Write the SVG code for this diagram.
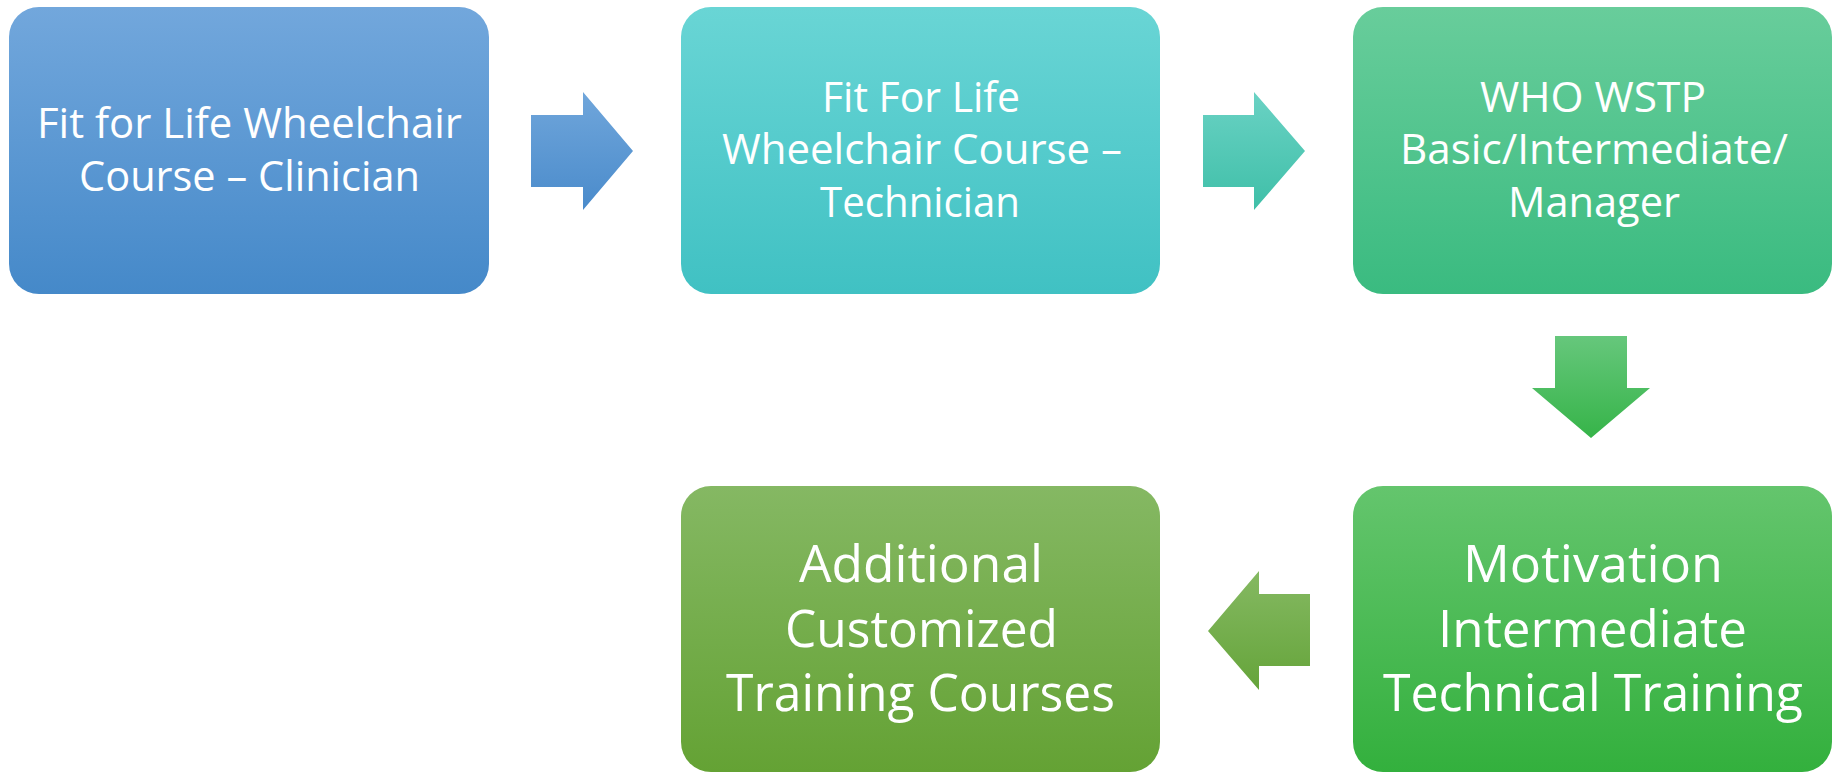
<svg xmlns="http://www.w3.org/2000/svg" width="1833" height="773" viewBox="0 0 1833 773">
<defs>
<linearGradient id="g1" x1="0" y1="0" x2="0" y2="1"><stop offset="0" stop-color="#72a7dc"/><stop offset="1" stop-color="#4589c9"/></linearGradient>
<linearGradient id="g2" x1="0" y1="0" x2="0" y2="1"><stop offset="0" stop-color="#69d5d5"/><stop offset="1" stop-color="#40c1c3"/></linearGradient>
<linearGradient id="g3" x1="0" y1="0" x2="0" y2="1"><stop offset="0" stop-color="#68cd9b"/><stop offset="1" stop-color="#3abb80"/></linearGradient>
<linearGradient id="g4" x1="0" y1="0" x2="0" y2="1"><stop offset="0" stop-color="#64c56d"/><stop offset="1" stop-color="#33b03d"/></linearGradient>
<linearGradient id="g5" x1="0" y1="0" x2="0" y2="1"><stop offset="0" stop-color="#85b863"/><stop offset="1" stop-color="#64a234"/></linearGradient>
<linearGradient id="a1" gradientUnits="userSpaceOnUse" x1="0" y1="92" x2="0" y2="210"><stop offset="0" stop-color="#70a6db"/><stop offset="1" stop-color="#4a8bcb"/></linearGradient>
<linearGradient id="a2" gradientUnits="userSpaceOnUse" x1="0" y1="92" x2="0" y2="210"><stop offset="0" stop-color="#6ad2c4"/><stop offset="1" stop-color="#3fbfa8"/></linearGradient>
<linearGradient id="a3" gradientUnits="userSpaceOnUse" x1="0" y1="336" x2="0" y2="438"><stop offset="0" stop-color="#66c77c"/><stop offset="1" stop-color="#36b449"/></linearGradient>
<linearGradient id="a4" gradientUnits="userSpaceOnUse" x1="0" y1="571" x2="0" y2="690"><stop offset="0" stop-color="#85b962"/><stop offset="1" stop-color="#65a43a"/></linearGradient>
</defs>
<style>
.box{stroke:none}
.t{font-family:"Open Sans","Noto Sans",sans-serif;fill:#ffffff;text-anchor:middle}
.s{font-size:42px}
.b{font-size:52px}
</style>
<g id="connectors">
<polygon points="531,115 583,115 583,92 633,151 583,210 583,187 531,187" fill="url(#a1)"/>
<polygon points="1203,115 1254,115 1254,92 1305,151 1254,210 1254,187 1203,187" fill="url(#a2)"/>
<polygon points="1555,336 1627,336 1627,388 1650,388 1591,438 1532,388 1555,388" fill="url(#a3)"/>
<polygon points="1310,594 1259,594 1259,571 1208,631 1259,690 1259,666 1310,666" fill="url(#a4)"/>
</g>
<g id="node1">
<rect class="box" x="9" y="7" width="480" height="287" rx="30" fill="url(#g1)"/>
<text class="t s" x="249.5" y="138" textLength="425" lengthAdjust="spacingAndGlyphs">Fit for Life Wheelchair</text>
<text class="t s" x="249.5" y="191" textLength="341" lengthAdjust="spacingAndGlyphs">Course – Clinician</text>
</g>
<g id="node2">
<rect class="box" x="681" y="7" width="479" height="287" rx="30" fill="url(#g2)"/>
<text class="t s" x="921" y="112" textLength="198" lengthAdjust="spacingAndGlyphs">Fit For Life</text>
<text class="t s" x="922" y="164" textLength="400" lengthAdjust="spacingAndGlyphs">Wheelchair Course –</text>
<text class="t s" x="920" y="217" textLength="200" lengthAdjust="spacingAndGlyphs">Technician</text>
</g>
<g id="node3">
<rect class="box" x="1353" y="7" width="479" height="287" rx="30" fill="url(#g3)"/>
<text class="t s" x="1593" y="112" textLength="226" lengthAdjust="spacingAndGlyphs">WHO WSTP</text>
<text class="t s" x="1594" y="164" textLength="388" lengthAdjust="spacingAndGlyphs">Basic/Intermediate/</text>
<text class="t s" x="1594" y="217" textLength="172" lengthAdjust="spacingAndGlyphs">Manager</text>
</g>
<g id="node4">
<rect class="box" x="1353" y="486" width="479" height="286" rx="30" fill="url(#g4)"/>
<text class="t b" x="1593" y="582" textLength="260" lengthAdjust="spacingAndGlyphs">Motivation</text>
<text class="t b" x="1592.5" y="647" textLength="309" lengthAdjust="spacingAndGlyphs">Intermediate</text>
<text class="t b" x="1593" y="711" textLength="420" lengthAdjust="spacingAndGlyphs">Technical Training</text>
</g>
<g id="node5">
<rect class="box" x="681" y="486" width="479" height="286" rx="30" fill="url(#g5)"/>
<text class="t b" x="921" y="582" textLength="244" lengthAdjust="spacingAndGlyphs">Additional</text>
<text class="t b" x="921.5" y="647" textLength="273" lengthAdjust="spacingAndGlyphs">Customized</text>
<text class="t b" x="920.5" y="711" textLength="389" lengthAdjust="spacingAndGlyphs">Training Courses</text>
</g>
</svg>
